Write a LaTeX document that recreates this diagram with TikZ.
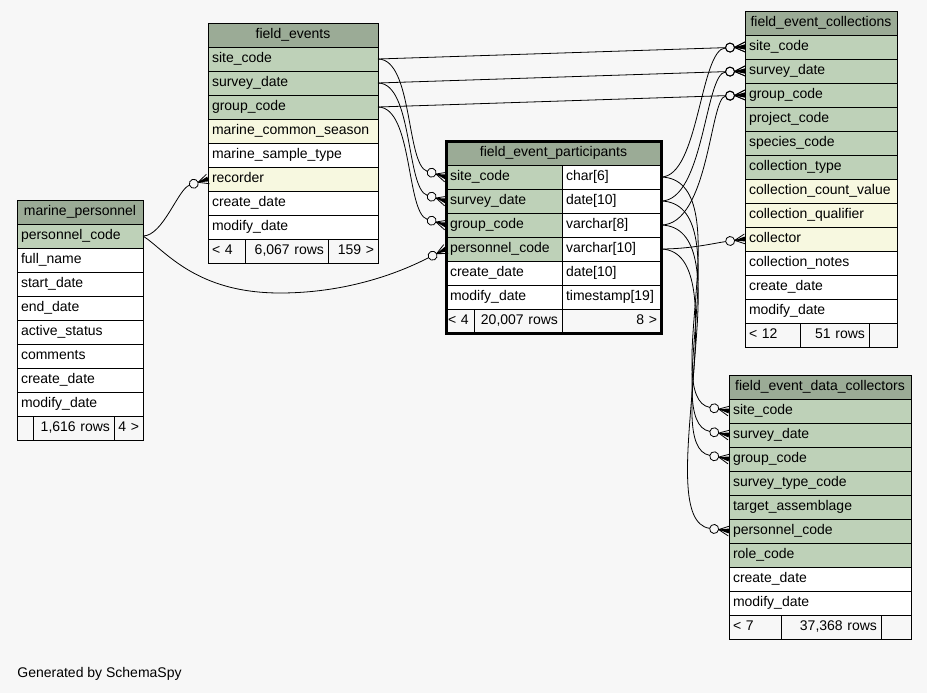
\documentclass[tikz,border=0pt]{standalone}
\usepackage{fontspec}
\setmainfont{Liberation Sans}
\usepackage{xcolor}
\usepackage{tikz}
\usetikzlibrary{positioning}

\definecolor{headgreen}{HTML}{9BAB96}
\definecolor{keygreen}{HTML}{BED1B8}
\definecolor{idxyellow}{HTML}{F7F8E0}
\definecolor{bggray}{HTML}{F7F7F7}
\newcommand{\erfont}{\fontsize{14}{16}\selectfont}

\pgfdeclarearrow{
  name = crowodot,
  setup code = {
    \pgfarrowssettipend{0pt}
    \pgfarrowssetlineend{-19.5pt}
    \pgfarrowssetbackend{-19.5pt}
    \pgfarrowshullpoint{0pt}{5pt}
    \pgfarrowshullpoint{0pt}{-5pt}
    \pgfarrowshullpoint{-19.5pt}{5pt}
    \pgfarrowshullpoint{-19.5pt}{-5pt}
  },
  drawing code = {
    \pgfpathcircle{\pgfqpoint{-15pt}{0pt}}{4.5pt}
    \pgfusepathqstroke
    \pgfpathmoveto{\pgfqpoint{-10.5pt}{0pt}}
    \pgfpathlineto{\pgfqpoint{0pt}{5pt}}
    \pgfpathmoveto{\pgfqpoint{-10.5pt}{0pt}}
    \pgfpathlineto{\pgfqpoint{0pt}{0pt}}
    \pgfpathmoveto{\pgfqpoint{-10.5pt}{0pt}}
    \pgfpathlineto{\pgfqpoint{0pt}{-5pt}}
    \pgfusepathqstroke
    \pgfpathmoveto{\pgfqpoint{-10.5pt}{0pt}}
    \pgfpathlineto{\pgfqpoint{0pt}{2.5pt}}
    \pgfpathlineto{\pgfqpoint{0pt}{-2.5pt}}
    \pgfpathclose
    \pgfusepathqfill
  }
}

\tikzset{
  cell/.style = {draw, fill=white, outer sep=0pt, inner xsep=4pt, inner ysep=0pt,
    minimum height=24pt, text height=10pt, text depth=3pt, align=left,
    text width=#1, font=\erfont},
  key/.style = {cell=#1, fill=keygreen},
  idx/.style = {cell=#1, fill=idxyellow},
  head/.style = {cell=#1, fill=headgreen, align=center},
  foot/.style = {cell=#1, fill=bggray},
  footr/.style = {cell=#1, fill=bggray, align=right},
  link/.style = {-crowodot}
}

\begin{document}
\begin{tikzpicture}[x=1pt,y=-1pt,line width=0.8pt,node distance=0pt]
  \fill[bggray] (0,0) rectangle (927,693);
  \useasboundingbox (0,0) rectangle (927,693);

  \node[head=118pt, anchor=north west] (mp) at (17,200) {marine\_personnel};
  \node[key=118pt, below=of mp] (mp-pcode) {personnel\_code};
  \node[cell=118pt, below=of mp-pcode] (mp-name) {full\_name};
  \node[cell=118pt, below=of mp-name] (mp-start) {start\_date};
  \node[cell=118pt, below=of mp-start] (mp-end) {end\_date};
  \node[cell=118pt, below=of mp-end] (mp-status) {active\_status};
  \node[cell=118pt, below=of mp-status] (mp-comm) {comments};
  \node[cell=118pt, below=of mp-comm] (mp-cdate) {create\_date};
  \node[cell=118pt, below=of mp-cdate] (mp-mdate) {modify\_date};
  \node[foot=8pt, below right=0pt and 0pt of mp-mdate.south west] (mp-f1) {};
  \node[footr=73pt, right=of mp-f1] (mp-f2) {1,616 rows};
  \node[footr=21pt, right=of mp-f2] (mp-f3) {4 >};

  \node[head=162pt, anchor=north west] (fe) at (208,23) {field\_events};
  \node[key=162pt, below=of fe] (fe-site) {site\_code};
  \node[key=162pt, below=of fe-site] (fe-survey) {survey\_date};
  \node[key=162pt, below=of fe-survey] (fe-group) {group\_code};
  \node[idx=162pt, below=of fe-group] (fe-season) {marine\_common\_season};
  \node[cell=162pt, below=of fe-season] (fe-stype) {marine\_sample\_type};
  \node[idx=162pt, below=of fe-stype] (fe-rec) {recorder};
  \node[cell=162pt, below=of fe-rec] (fe-cdate) {create\_date};
  \node[cell=162pt, below=of fe-cdate] (fe-mdate) {modify\_date};
  \node[foot=29pt, below right=0pt and 0pt of fe-mdate.south west] (fe-f1) {< 4};
  \node[footr=75pt, right=of fe-f1] (fe-f2) {6,067 rows};
  \node[footr=42pt, right=of fe-f2] (fe-f3) {159 >};

  \node[head=207pt, anchor=north west] (fep) at (446,141) {field\_event\_participants};
  \node[key=108pt, below right=0pt and 0pt of fep.south west] (fep-site) {site\_code};
  \node[cell=91pt, right=of fep-site] (fep-site-t) {char[6]};
  \node[key=108pt, below=of fep-site] (fep-survey) {survey\_date};
  \node[cell=91pt, right=of fep-survey] (fep-survey-t) {date[10]};
  \node[key=108pt, below=of fep-survey] (fep-group) {group\_code};
  \node[cell=91pt, right=of fep-group] (fep-group-t) {varchar[8]};
  \node[key=108pt, below=of fep-group] (fep-pcode) {personnel\_code};
  \node[cell=91pt, right=of fep-pcode] (fep-pcode-t) {varchar[10]};
  \node[cell=108pt, below=of fep-pcode] (fep-cdate) {create\_date};
  \node[cell=91pt, right=of fep-cdate] (fep-cdate-t) {date[10]};
  \node[cell=108pt, below=of fep-cdate] (fep-mdate) {modify\_date};
  \node[cell=91pt, right=of fep-mdate] (fep-mdate-t) {timestamp[19]};
  \node[foot=24pt, inner xsep=2pt, below right=0pt and 0pt of fep-mdate.south west] (fep-f1) {< 4};
  \node[footr=80pt, right=of fep-f1] (fep-f2) {20,007 rows};
  \node[footr=91pt, right=of fep-f2] (fep-f3) {8 >};
  \draw[line width=3pt] (fep.north west) rectangle (fep-f3.south east);

  \node[head=144pt, anchor=north west] (fcol) at (745,11) {field\_event\_collections};
  \node[key=144pt, below=of fcol] (fcol-site) {site\_code};
  \node[key=144pt, below=of fcol-site] (fcol-survey) {survey\_date};
  \node[key=144pt, below=of fcol-survey] (fcol-group) {group\_code};
  \node[key=144pt, below=of fcol-group] (fcol-proj) {project\_code};
  \node[key=144pt, below=of fcol-proj] (fcol-spec) {species\_code};
  \node[key=144pt, below=of fcol-spec] (fcol-ctype) {collection\_type};
  \node[idx=144pt, below=of fcol-ctype] (fcol-count) {collection\_count\_value};
  \node[idx=144pt, below=of fcol-count] (fcol-qual) {collection\_qualifier};
  \node[idx=144pt, below=of fcol-qual] (fcol-coll) {collector};
  \node[cell=144pt, below=of fcol-coll] (fcol-notes) {collection\_notes};
  \node[cell=144pt, below=of fcol-notes] (fcol-cdate) {create\_date};
  \node[cell=144pt, below=of fcol-cdate] (fcol-mdate) {modify\_date};
  \node[foot=47pt, below right=0pt and 0pt of fcol-mdate.south west] (fcol-f1) {< 12};
  \node[footr=61pt, right=of fcol-f1] (fcol-f2) {51 rows};
  \node[footr=20pt, right=of fcol-f2] (fcol-f3) {};

  \node[head=174pt, anchor=north west] (fdc) at (729,375) {field\_event\_data\_collectors};
  \node[key=174pt, below=of fdc] (fdc-site) {site\_code};
  \node[key=174pt, below=of fdc-site] (fdc-survey) {survey\_date};
  \node[key=174pt, below=of fdc-survey] (fdc-group) {group\_code};
  \node[key=174pt, below=of fdc-group] (fdc-stype) {survey\_type\_code};
  \node[key=174pt, below=of fdc-stype] (fdc-target) {target\_assemblage};
  \node[key=174pt, below=of fdc-target] (fdc-pcode) {personnel\_code};
  \node[key=174pt, below=of fdc-pcode] (fdc-role) {role\_code};
  \node[cell=174pt, below=of fdc-role] (fdc-cdate) {create\_date};
  \node[cell=174pt, below=of fdc-cdate] (fdc-mdate) {modify\_date};
  \node[foot=44pt, below right=0pt and 0pt of fdc-mdate.south west] (fdc-f1) {< 7};
  \node[footr=92pt, right=of fdc-f1] (fdc-f2) {37,368 rows};
  \node[footr=22pt, right=of fdc-f2] (fdc-f3) {};

  \node[font=\erfont, anchor=base west, inner sep=0pt] (gen) at (17,677) {Generated by SchemaSpy};

  \coordinate (dip) at (280,293);

  \draw[link] (fe-site.east) -- (fcol-site.west);
  \draw[link] (fe-survey.east) -- (fcol-survey.west);
  \draw[link] (fe-group.east) -- (fcol-group.west);
  \draw[link] (fe-site.east) .. controls +(35,0) and +(-40,-12) .. (fep-site.west);
  \draw[link] (fe-survey.east) .. controls +(35,0) and +(-40,-12) .. (fep-survey.west);
  \draw[link] (fe-group.east) .. controls +(35,0) and +(-40,-12) .. (fep-group.west);
  \draw[link] (mp-pcode.east) .. controls +(20,0) and +(-30,10) .. (fe-rec.west);
  \draw[link] (mp-pcode.east) .. controls +(22,14) and +(-85,0) .. (dip)
    .. controls +(80,0) and +(-30,15) .. (fep-pcode.west);
  \draw[link] (fep-site-t.east) .. controls +(38,0) and +(-45,2) .. (fcol-site.west);
  \draw[link] (fep-survey-t.east) .. controls +(43,0) and +(-40,2) .. (fcol-survey.west);
  \draw[link] (fep-group-t.east) .. controls +(48,0) and +(-35,2) .. (fcol-group.west);
  \draw[link] (fep-pcode-t.east) .. controls +(30,0) and +(-30,4) .. (fcol-coll.west);
  \draw[link] (fep-site-t.east) .. controls +(80,2) and +(-70,-13) .. (fdc-site.west);
  \draw[link] (fep-survey-t.east) .. controls +(80,2) and +(-70,-13) .. (fdc-survey.west);
  \draw[link] (fep-group-t.east) .. controls +(80,2) and +(-70,-13) .. (fdc-group.west);
  \draw[link] (fep-pcode-t.east) .. controls +(80,2) and +(-80,-11) .. (fdc-pcode.west);
\end{tikzpicture}
\end{document}
